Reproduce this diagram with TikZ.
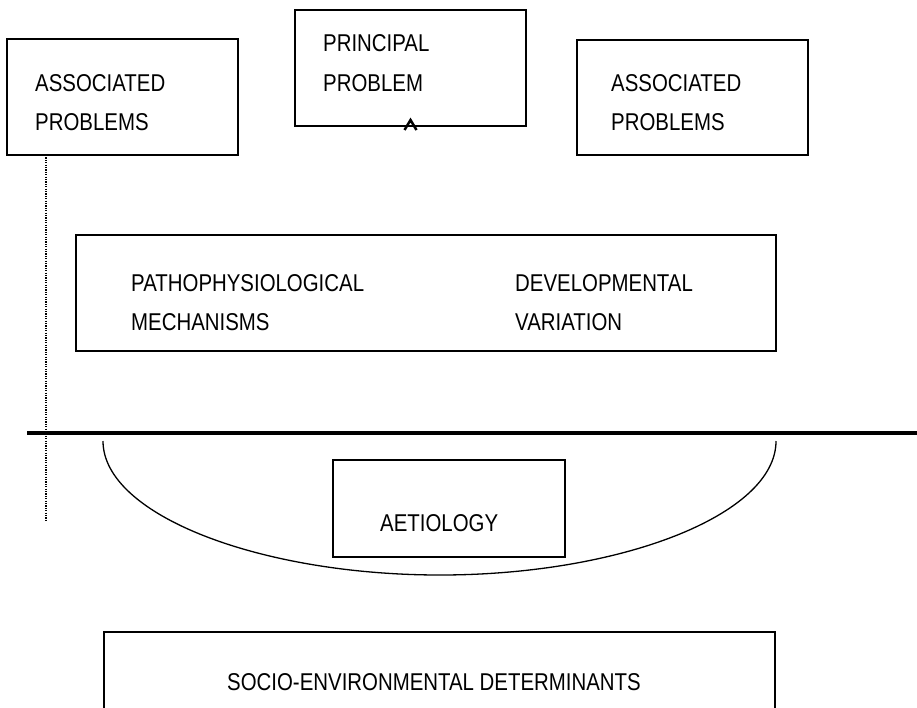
\documentclass[tikz,border=0pt]{standalone}
\usepackage{fontspec}
\setmainfont[FakeStretch=0.84]{Liberation Sans}
\begin{document}
\begin{tikzpicture}[x=1pt,y=-1pt,
  box/.style={draw=black, line width=1.6pt, rectangle, inner sep=0pt},
  lbl/.style={anchor=base west, inner sep=0pt, font=\fontsize{24.3}{30}\selectfont},
]
\useasboundingbox[fill=white] (0,0) rectangle (917,707);
% boxes
\node[box, minimum width=231, minimum height=116] (al) at (122.5,97) {};
\node[box, minimum width=231, minimum height=116] (pp) at (410.5,68) {};
\node[box, minimum width=231, minimum height=115] (ar) at (692.5,97.5) {};
\node[box, minimum width=700, minimum height=116] (mech) at (426,293) {};
\node[box, minimum width=232, minimum height=97] (aet) at (449,508.5) {};
\node[box, minimum width=671, minimum height=100] (soc) at (439.5,682) {};
% texts
\node[lbl] (t1) at (35,91) {ASSOCIATED};
\node[lbl] (t2) at (35,130) {PROBLEMS};
\node[lbl] (t3) at (323,51) {PRINCIPAL};
\node[lbl] (t4) at (323,91) {PROBLEM};
\node[lbl] (t5) at (611,91) {ASSOCIATED};
\node[lbl] (t6) at (611,130) {PROBLEMS};
\node[lbl] (t7) at (131,291) {PATHOPHYSIOLOGICAL};
\node[lbl] (t8) at (131,330) {MECHANISMS};
\node[lbl] (t9) at (515,291) {DEVELOPMENTAL};
\node[lbl] (t10) at (515,330) {VARIATION};
\node[lbl] (t11) at (380,531) {AETIOLOGY};
\node[lbl] (t12) at (227,690) {SOCIO-ENVIRONMENTAL DETERMINANTS};
% caret at bottom of principal box
\coordinate (c1) at (404.5,130);
\coordinate (c2) at (410.5,120);
\coordinate (c3) at (416.5,130);
\draw[line width=2.5pt] (c1) -- (c2) -- (c3);
% dotted line
\coordinate (d1) at (46,155);
\coordinate (d2) at (46,520);
\draw[line width=1.4pt, dash pattern=on 1.2pt off 1.2pt] (d1) -- (d2);
% thick horizontal line
\coordinate (h1) at (27,433);
\coordinate (h2) at (917,433);
\draw[line width=4.5pt] (h1) -- (h2);
% bowl
\coordinate (b1) at (103,441);
\coordinate (b2) at (440,575);
\coordinate (b3) at (776,441);
\draw[line width=1.3pt] (b1) .. controls (103,515) and (260,575) .. (b2)
  .. controls (620,575) and (776,515) .. (b3);
\end{tikzpicture}
\end{document}
